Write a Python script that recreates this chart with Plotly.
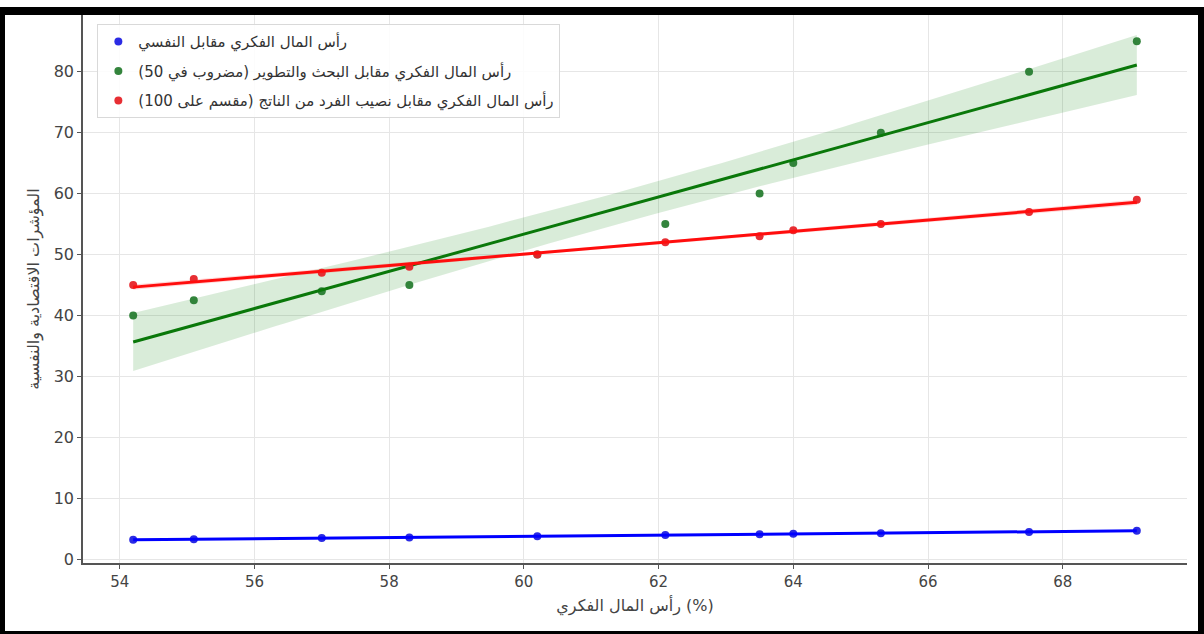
import numpy as np
import plotly.graph_objects as go

# Intellectual capital (%) on the x axis
capital = [54.2, 55.1, 57.0, 58.3, 60.2, 62.1, 63.5, 64.0, 65.3, 67.5, 69.1]

# Indicators plotted against it
psych = [3.2, 3.3, 3.5, 3.6, 3.8, 4.0, 4.1, 4.2, 4.3, 4.5, 4.7]
rnd_x50 = [40, 42.5, 44, 45, 50, 55, 60, 65, 70, 80, 85]
gdp_div100 = [45, 46, 47, 48, 50, 52, 53, 54, 55, 57, 59]

series = [
    ("رأس المال الفكري مقابل النفسي", psych,
     "#0000ff", "rgba(0,0,255,0.15)", "rgba(20,20,225,0.9)"),
    ("رأس المال الفكري مقابل البحث والتطوير (مضروب في 50)", rnd_x50,
     "#0a780a", "rgba(0,128,0,0.15)", "rgba(40,125,50,0.95)"),
    ("رأس المال الفكري مقابل نصيب الفرد من الناتج (مقسم على 100)", gdp_div100,
     "#ff0d0d", "rgba(255,0,0,0.15)", "rgba(230,35,40,0.95)"),
]

x_label = "رأس المال الفكري (%)"
y_label = "المؤشرات الاقتصادية والنفسية"
x_ticks = [54, 56, 58, 60, 62, 64, 66, 68]
y_ticks = [0, 10, 20, 30, 40, 50, 60, 70, 80]

T95 = 2.262  # t quantile, 9 degrees of freedom


def fit_with_band(x, y):
    x = np.asarray(x, float)
    y = np.asarray(y, float)
    n = len(x)
    slope, intercept = np.polyfit(x, y, 1)
    grid = np.linspace(x.min(), x.max(), 100)
    yhat = intercept + slope * grid
    resid = y - (intercept + slope * x)
    s = np.sqrt(np.sum(resid ** 2) / (n - 2))
    sxx = np.sum((x - x.mean()) ** 2)
    half = T95 * s * np.sqrt(1.0 / n + (grid - x.mean()) ** 2 / sxx)
    return grid, yhat, yhat - half, yhat + half


fig = go.Figure()

for i, (name, vals, color, band, pt) in enumerate(series):
    gx, gy, lo, hi = fit_with_band(capital, vals)
    fig.add_trace(go.Scatter(
        x=np.concatenate([gx, gx[::-1]]), y=np.concatenate([hi, lo[::-1]]),
        fill="toself", fillcolor=band, line=dict(width=0),
        hoverinfo="skip", showlegend=False))
    fig.add_trace(go.Scatter(
        x=capital, y=vals, mode="markers", name=name, legendgroup=f"g{i}",
        marker=dict(color=pt, size=8)))
    fig.add_trace(go.Scatter(
        x=gx, y=gy, mode="lines", line=dict(color=color, width=3),
        showlegend=False, hoverinfo="skip"))

# Frame around the whole figure (paper coordinates of the plot area)
L, R, T, B = 83, 1187, 15, 563
W, H = 1204, 634


def px_x(p):
    return (p - L) / (R - L)


def px_y(p):
    return (B - p) / (B - T)


frame = [
    (0, 7, W, 15),
    (0, 7, 5, H),
    (1198, 7, W, H),
    (0, 631, W, H),
]
shapes = [
    dict(type="rect", xref="paper", yref="paper",
         x0=px_x(a), x1=px_x(c), y0=px_y(d), y1=px_y(b),
         fillcolor="black", line=dict(width=0), layer="above")
    for a, b, c, d in frame
]

fig.update_layout(
    width=W, height=H,
    margin=dict(l=L, r=W - R, t=T, b=H - B),
    paper_bgcolor="white", plot_bgcolor="white",
    font=dict(family="DejaVu Sans", color="#333333"),
    shapes=shapes,
    showlegend=True,
    legend=dict(
        x=0.013, y=0.983, xanchor="left", yanchor="top",
        bgcolor="rgba(255,255,255,0.85)", bordercolor="#d9d9d9", borderwidth=1,
        font=dict(size=15, color="#333333"), tracegroupgap=7,
    ),
    xaxis=dict(
        range=[53.455, 69.845], tickvals=x_ticks,
        showgrid=True, gridcolor="#e6e6e6", gridwidth=1,
        showline=True, linecolor="#555555", linewidth=1.5,
        ticks="outside", ticklen=4, tickcolor="#555555",
        tickfont=dict(size=15, color="#444444"), zeroline=False,
        title=dict(text=x_label, font=dict(size=16, color="#444444"), standoff=10),
    ),
    yaxis=dict(
        range=[-0.6, 89.3], tickvals=y_ticks,
        showgrid=True, gridcolor="#e6e6e6", gridwidth=1,
        showline=True, linecolor="#555555", linewidth=1.5,
        ticks="outside", ticklen=4, tickcolor="#555555",
        tickfont=dict(size=16, color="#444444"), zeroline=False,
        title=dict(text=y_label, font=dict(size=16, color="#444444"), standoff=10),
    ),
)

fig.write_html("out.html")
